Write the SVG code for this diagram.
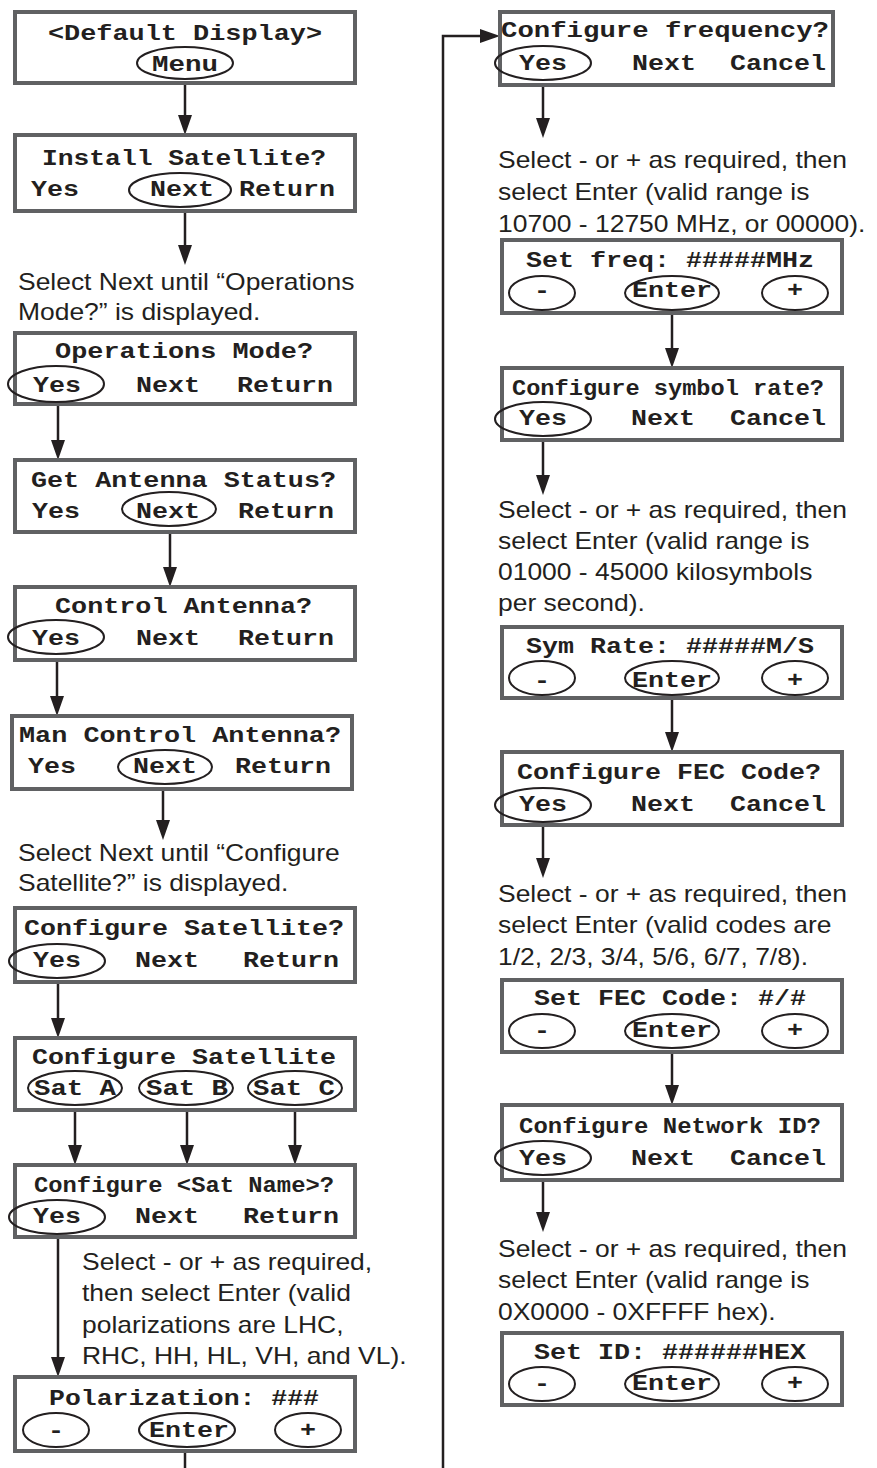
<svg xmlns="http://www.w3.org/2000/svg" width="877" height="1468" viewBox="0 0 877 1468">
<style>
.box{fill:#fff;stroke:#606163;stroke-width:4}
.btn{fill:none;stroke:#231f20;stroke-width:2}
.m{font-family:"Liberation Mono","DejaVu Sans Mono",monospace;font-weight:bold;font-size:22px;fill:#231f20}
.s{font-family:"Liberation Sans",Arial,Helvetica,sans-serif;font-size:23px;fill:#231f20}
.c{fill:none;stroke:#231f20;stroke-width:2.5}
</style>
<defs>
<marker id="ah" markerUnits="userSpaceOnUse" markerWidth="20" markerHeight="14" refX="10" refY="7" orient="auto">
<path d="M0,0 L20,7 L0,14 z" fill="#231f20"/>
</marker>
</defs>
<rect width="877" height="1468" fill="#fff"/>

<g id="connectors">
<line class="c" x1="185" y1="79" x2="185" y2="125" marker-end="url(#ah)"/>
<line class="c" x1="185" y1="207" x2="185" y2="255" marker-end="url(#ah)"/>
<line class="c" x1="58" y1="402" x2="58" y2="450" marker-end="url(#ah)"/>
<line class="c" x1="170" y1="526" x2="170" y2="577" marker-end="url(#ah)"/>
<line class="c" x1="57" y1="654" x2="57" y2="706" marker-end="url(#ah)"/>
<line class="c" x1="163" y1="784" x2="163" y2="830" marker-end="url(#ah)"/>
<line class="c" x1="58" y1="978" x2="58" y2="1028" marker-end="url(#ah)"/>
<line class="c" x1="75" y1="1105" x2="75" y2="1155" marker-end="url(#ah)"/>
<line class="c" x1="187" y1="1105" x2="187" y2="1155" marker-end="url(#ah)"/>
<line class="c" x1="295" y1="1105" x2="295" y2="1155" marker-end="url(#ah)"/>
<line class="c" x1="58" y1="1234" x2="58" y2="1367" marker-end="url(#ah)"/>
<line class="c" x1="185" y1="1447" x2="185" y2="1468"/>
<polyline class="c" points="443,1468 443,36 490,36" marker-end="url(#ah)"/>
<line class="c" x1="543" y1="80" x2="543" y2="128" marker-end="url(#ah)"/>
<line class="c" x1="672" y1="310" x2="672" y2="358" marker-end="url(#ah)"/>
<line class="c" x1="543" y1="436" x2="543" y2="485" marker-end="url(#ah)"/>
<line class="c" x1="672" y1="695" x2="672" y2="742" marker-end="url(#ah)"/>
<line class="c" x1="543" y1="822" x2="543" y2="868" marker-end="url(#ah)"/>
<line class="c" x1="672" y1="1048" x2="672" y2="1095" marker-end="url(#ah)"/>
<line class="c" x1="543" y1="1175" x2="543" y2="1222" marker-end="url(#ah)"/>
</g>

<g id="default-display">
<rect class="box" x="15" y="12" width="340" height="71"/>
<text class="m" x="48" y="40" textLength="274" lengthAdjust="spacingAndGlyphs">&lt;Default Display&gt;</text>
<ellipse class="btn" cx="185" cy="63" rx="48" ry="16"/>
<text class="m" x="152" y="71" textLength="66" lengthAdjust="spacingAndGlyphs">Menu</text>
</g>

<g id="install-satellite">
<rect class="box" x="15" y="135" width="340" height="76"/>
<text class="m" x="42" y="165" textLength="284" lengthAdjust="spacingAndGlyphs">Install Satellite?</text>
<text class="m" x="31" y="196" textLength="48" lengthAdjust="spacingAndGlyphs">Yes</text>
<text class="m" x="150" y="196" textLength="64" lengthAdjust="spacingAndGlyphs">Next</text>
<text class="m" x="239" y="196" textLength="96" lengthAdjust="spacingAndGlyphs">Return</text>
<ellipse class="btn" cx="180" cy="190" rx="51" ry="17"/>
</g>

<g id="note-operations">
<text class="s" transform="translate(18,0) scale(1.15,1)"><tspan x="0" y="290">Select Next until “Operations</tspan><tspan x="0" y="320">Mode?” is displayed.</tspan></text>
</g>

<g id="operations-mode">
<rect class="box" x="15" y="333" width="340" height="71"/>
<text class="m" x="55" y="358" textLength="258" lengthAdjust="spacingAndGlyphs">Operations Mode?</text>
<text class="m" x="33" y="392" textLength="48" lengthAdjust="spacingAndGlyphs">Yes</text>
<text class="m" x="136" y="392" textLength="64" lengthAdjust="spacingAndGlyphs">Next</text>
<text class="m" x="237" y="392" textLength="96" lengthAdjust="spacingAndGlyphs">Return</text>
<ellipse class="btn" cx="56" cy="384" rx="48" ry="18"/>
</g>

<g id="get-antenna-status">
<rect class="box" x="15" y="460" width="340" height="72"/>
<text class="m" x="31" y="487" textLength="305" lengthAdjust="spacingAndGlyphs">Get Antenna Status?</text>
<text class="m" x="32" y="518" textLength="48" lengthAdjust="spacingAndGlyphs">Yes</text>
<text class="m" x="136" y="518" textLength="64" lengthAdjust="spacingAndGlyphs">Next</text>
<text class="m" x="238" y="518" textLength="96" lengthAdjust="spacingAndGlyphs">Return</text>
<ellipse class="btn" cx="169" cy="509" rx="47" ry="17"/>
</g>

<g id="control-antenna">
<rect class="box" x="15" y="587" width="340" height="73"/>
<text class="m" x="55" y="613" textLength="257" lengthAdjust="spacingAndGlyphs">Control Antenna?</text>
<text class="m" x="32" y="645" textLength="48" lengthAdjust="spacingAndGlyphs">Yes</text>
<text class="m" x="136" y="645" textLength="64" lengthAdjust="spacingAndGlyphs">Next</text>
<text class="m" x="238" y="645" textLength="96" lengthAdjust="spacingAndGlyphs">Return</text>
<ellipse class="btn" cx="56" cy="637" rx="48" ry="17"/>
</g>

<g id="man-control-antenna">
<rect class="box" x="12" y="716" width="340" height="73"/>
<text class="m" x="19" y="742" textLength="322" lengthAdjust="spacingAndGlyphs">Man Control Antenna?</text>
<text class="m" x="28" y="773" textLength="48" lengthAdjust="spacingAndGlyphs">Yes</text>
<text class="m" x="133" y="773" textLength="64" lengthAdjust="spacingAndGlyphs">Next</text>
<text class="m" x="235" y="773" textLength="96" lengthAdjust="spacingAndGlyphs">Return</text>
<ellipse class="btn" cx="165" cy="767" rx="47" ry="17"/>
</g>

<g id="note-configure">
<text class="s" transform="translate(18,0) scale(1.15,1)"><tspan x="0" y="861">Select Next until “Configure</tspan><tspan x="0" y="891">Satellite?” is displayed.</tspan></text>
</g>

<g id="configure-satellite-q">
<rect class="box" x="15" y="908" width="340" height="74"/>
<text class="m" x="24" y="935" textLength="320" lengthAdjust="spacingAndGlyphs">Configure Satellite?</text>
<text class="m" x="33" y="967" textLength="48" lengthAdjust="spacingAndGlyphs">Yes</text>
<text class="m" x="135" y="967" textLength="64" lengthAdjust="spacingAndGlyphs">Next</text>
<text class="m" x="243" y="967" textLength="96" lengthAdjust="spacingAndGlyphs">Return</text>
<ellipse class="btn" cx="57" cy="961" rx="48" ry="17"/>
</g>

<g id="configure-satellite">
<rect class="box" x="15" y="1038" width="340" height="72"/>
<text class="m" x="32" y="1064" textLength="304" lengthAdjust="spacingAndGlyphs">Configure Satellite</text>
<text class="m" x="34" y="1095" textLength="82" lengthAdjust="spacingAndGlyphs">Sat A</text>
<text class="m" x="146" y="1095" textLength="82" lengthAdjust="spacingAndGlyphs">Sat B</text>
<text class="m" x="253" y="1095" textLength="82" lengthAdjust="spacingAndGlyphs">Sat C</text>
<ellipse class="btn" cx="75" cy="1088" rx="47" ry="17"/>
<ellipse class="btn" cx="186" cy="1088" rx="47" ry="17"/>
<ellipse class="btn" cx="295" cy="1088" rx="47" ry="17"/>
</g>

<g id="configure-sat-name">
<rect class="box" x="15" y="1165" width="340" height="72"/>
<text class="m" x="34" y="1192" textLength="300" lengthAdjust="spacingAndGlyphs">Configure &lt;Sat Name&gt;?</text>
<text class="m" x="33" y="1223" textLength="48" lengthAdjust="spacingAndGlyphs">Yes</text>
<text class="m" x="135" y="1223" textLength="64" lengthAdjust="spacingAndGlyphs">Next</text>
<text class="m" x="243" y="1223" textLength="96" lengthAdjust="spacingAndGlyphs">Return</text>
<ellipse class="btn" cx="57" cy="1217" rx="48" ry="17"/>
</g>

<g id="note-polarization">
<text class="s" transform="translate(82,0) scale(1.15,1)"><tspan x="0" y="1270">Select - or + as required,</tspan><tspan x="0" y="1301">then select Enter (valid</tspan><tspan x="0" y="1333">polarizations are LHC,</tspan><tspan x="0" y="1364">RHC, HH, HL, VH, and VL).</tspan></text>
</g>

<g id="polarization">
<rect class="box" x="15" y="1377" width="340" height="74"/>
<text class="m" x="49" y="1405" textLength="270" lengthAdjust="spacingAndGlyphs">Polarization: ###</text>
<text class="m" x="48" y="1437" textLength="16" lengthAdjust="spacingAndGlyphs">-</text>
<text class="m" x="149" y="1437" textLength="80" lengthAdjust="spacingAndGlyphs">Enter</text>
<text class="m" x="300" y="1437" textLength="16" lengthAdjust="spacingAndGlyphs">+</text>
<ellipse class="btn" cx="56" cy="1430" rx="33" ry="17"/>
<ellipse class="btn" cx="187" cy="1430" rx="48" ry="17"/>
<ellipse class="btn" cx="308" cy="1430" rx="33" ry="17"/>
</g>

<g id="configure-frequency">
<rect class="box" x="500" y="12" width="333" height="73"/>
<text class="m" x="501" y="37" textLength="328" lengthAdjust="spacingAndGlyphs">Configure frequency?</text>
<text class="m" x="519" y="70" textLength="48" lengthAdjust="spacingAndGlyphs">Yes</text>
<text class="m" x="632" y="70" textLength="64" lengthAdjust="spacingAndGlyphs">Next</text>
<text class="m" x="730" y="70" textLength="96" lengthAdjust="spacingAndGlyphs">Cancel</text>
<ellipse class="btn" cx="543" cy="63" rx="48" ry="17"/>
</g>

<g id="note-frequency">
<text class="s" transform="translate(498,0) scale(1.15,1)"><tspan x="0" y="168">Select - or + as required, then</tspan><tspan x="0" y="200">select Enter (valid range is</tspan><tspan x="0" y="232">10700 - 12750 MHz, or 00000).</tspan></text>
</g>

<g id="set-freq">
<rect class="box" x="502" y="240" width="340" height="73"/>
<text class="m" x="526" y="267" textLength="288" lengthAdjust="spacingAndGlyphs">Set freq: #####MHz</text>
<text class="m" x="534" y="297" textLength="16" lengthAdjust="spacingAndGlyphs">-</text>
<text class="m" x="632" y="297" textLength="80" lengthAdjust="spacingAndGlyphs">Enter</text>
<text class="m" x="787" y="297" textLength="16" lengthAdjust="spacingAndGlyphs">+</text>
<ellipse class="btn" cx="542" cy="293" rx="33" ry="17"/>
<ellipse class="btn" cx="672" cy="293" rx="47" ry="17"/>
<ellipse class="btn" cx="795" cy="293" rx="33" ry="17"/>
</g>

<g id="configure-symbol-rate">
<rect class="box" x="502" y="368" width="340" height="72"/>
<text class="m" x="512" y="395" textLength="312" lengthAdjust="spacingAndGlyphs">Configure symbol rate?</text>
<text class="m" x="519" y="425" textLength="48" lengthAdjust="spacingAndGlyphs">Yes</text>
<text class="m" x="631" y="425" textLength="64" lengthAdjust="spacingAndGlyphs">Next</text>
<text class="m" x="730" y="425" textLength="96" lengthAdjust="spacingAndGlyphs">Cancel</text>
<ellipse class="btn" cx="543" cy="419" rx="48" ry="17"/>
</g>

<g id="note-symbol-rate">
<text class="s" transform="translate(498,0) scale(1.15,1)"><tspan x="0" y="518">Select - or + as required, then</tspan><tspan x="0" y="549">select Enter (valid range is</tspan><tspan x="0" y="580">01000 - 45000 kilosymbols</tspan><tspan x="0" y="611">per second).</tspan></text>
</g>

<g id="sym-rate">
<rect class="box" x="502" y="627" width="340" height="71"/>
<text class="m" x="526" y="653" textLength="288" lengthAdjust="spacingAndGlyphs">Sym Rate: #####M/S</text>
<text class="m" x="534" y="687" textLength="16" lengthAdjust="spacingAndGlyphs">-</text>
<text class="m" x="632" y="687" textLength="80" lengthAdjust="spacingAndGlyphs">Enter</text>
<text class="m" x="787" y="687" textLength="16" lengthAdjust="spacingAndGlyphs">+</text>
<ellipse class="btn" cx="542" cy="678" rx="33" ry="17"/>
<ellipse class="btn" cx="672" cy="678" rx="47" ry="17"/>
<ellipse class="btn" cx="795" cy="678" rx="33" ry="17"/>
</g>

<g id="configure-fec">
<rect class="box" x="502" y="752" width="340" height="73"/>
<text class="m" x="517" y="779" textLength="304" lengthAdjust="spacingAndGlyphs">Configure FEC Code?</text>
<text class="m" x="519" y="811" textLength="48" lengthAdjust="spacingAndGlyphs">Yes</text>
<text class="m" x="631" y="811" textLength="64" lengthAdjust="spacingAndGlyphs">Next</text>
<text class="m" x="730" y="811" textLength="96" lengthAdjust="spacingAndGlyphs">Cancel</text>
<ellipse class="btn" cx="543" cy="805" rx="48" ry="17"/>
</g>

<g id="note-fec">
<text class="s" transform="translate(498,0) scale(1.15,1)"><tspan x="0" y="902">Select - or + as required, then</tspan><tspan x="0" y="933">select Enter (valid codes are</tspan><tspan x="0" y="965">1/2, 2/3, 3/4, 5/6, 6/7, 7/8).</tspan></text>
</g>

<g id="set-fec">
<rect class="box" x="502" y="980" width="340" height="72"/>
<text class="m" x="534" y="1005" textLength="272" lengthAdjust="spacingAndGlyphs">Set FEC Code: #/#</text>
<text class="m" x="534" y="1037" textLength="16" lengthAdjust="spacingAndGlyphs">-</text>
<text class="m" x="632" y="1037" textLength="80" lengthAdjust="spacingAndGlyphs">Enter</text>
<text class="m" x="787" y="1037" textLength="16" lengthAdjust="spacingAndGlyphs">+</text>
<ellipse class="btn" cx="542" cy="1031" rx="33" ry="17"/>
<ellipse class="btn" cx="672" cy="1031" rx="47" ry="17"/>
<ellipse class="btn" cx="795" cy="1031" rx="33" ry="17"/>
</g>

<g id="configure-network-id">
<rect class="box" x="502" y="1105" width="340" height="75"/>
<text class="m" x="519" y="1133" textLength="302" lengthAdjust="spacingAndGlyphs">Configure Network ID?</text>
<text class="m" x="519" y="1165" textLength="48" lengthAdjust="spacingAndGlyphs">Yes</text>
<text class="m" x="631" y="1165" textLength="64" lengthAdjust="spacingAndGlyphs">Next</text>
<text class="m" x="730" y="1165" textLength="96" lengthAdjust="spacingAndGlyphs">Cancel</text>
<ellipse class="btn" cx="543" cy="1158" rx="48" ry="17"/>
</g>

<g id="note-network-id">
<text class="s" transform="translate(498,0) scale(1.15,1)"><tspan x="0" y="1257">Select - or + as required, then</tspan><tspan x="0" y="1288">select Enter (valid range is</tspan><tspan x="0" y="1320">0X0000 - 0XFFFF hex).</tspan></text>
</g>

<g id="set-id">
<rect class="box" x="502" y="1333" width="340" height="72"/>
<text class="m" x="534" y="1359" textLength="272" lengthAdjust="spacingAndGlyphs">Set ID: ######HEX</text>
<text class="m" x="534" y="1390" textLength="16" lengthAdjust="spacingAndGlyphs">-</text>
<text class="m" x="632" y="1390" textLength="80" lengthAdjust="spacingAndGlyphs">Enter</text>
<text class="m" x="787" y="1390" textLength="16" lengthAdjust="spacingAndGlyphs">+</text>
<ellipse class="btn" cx="542" cy="1384" rx="33" ry="17"/>
<ellipse class="btn" cx="672" cy="1384" rx="47" ry="17"/>
<ellipse class="btn" cx="795" cy="1384" rx="33" ry="17"/>
</g>
</svg>
